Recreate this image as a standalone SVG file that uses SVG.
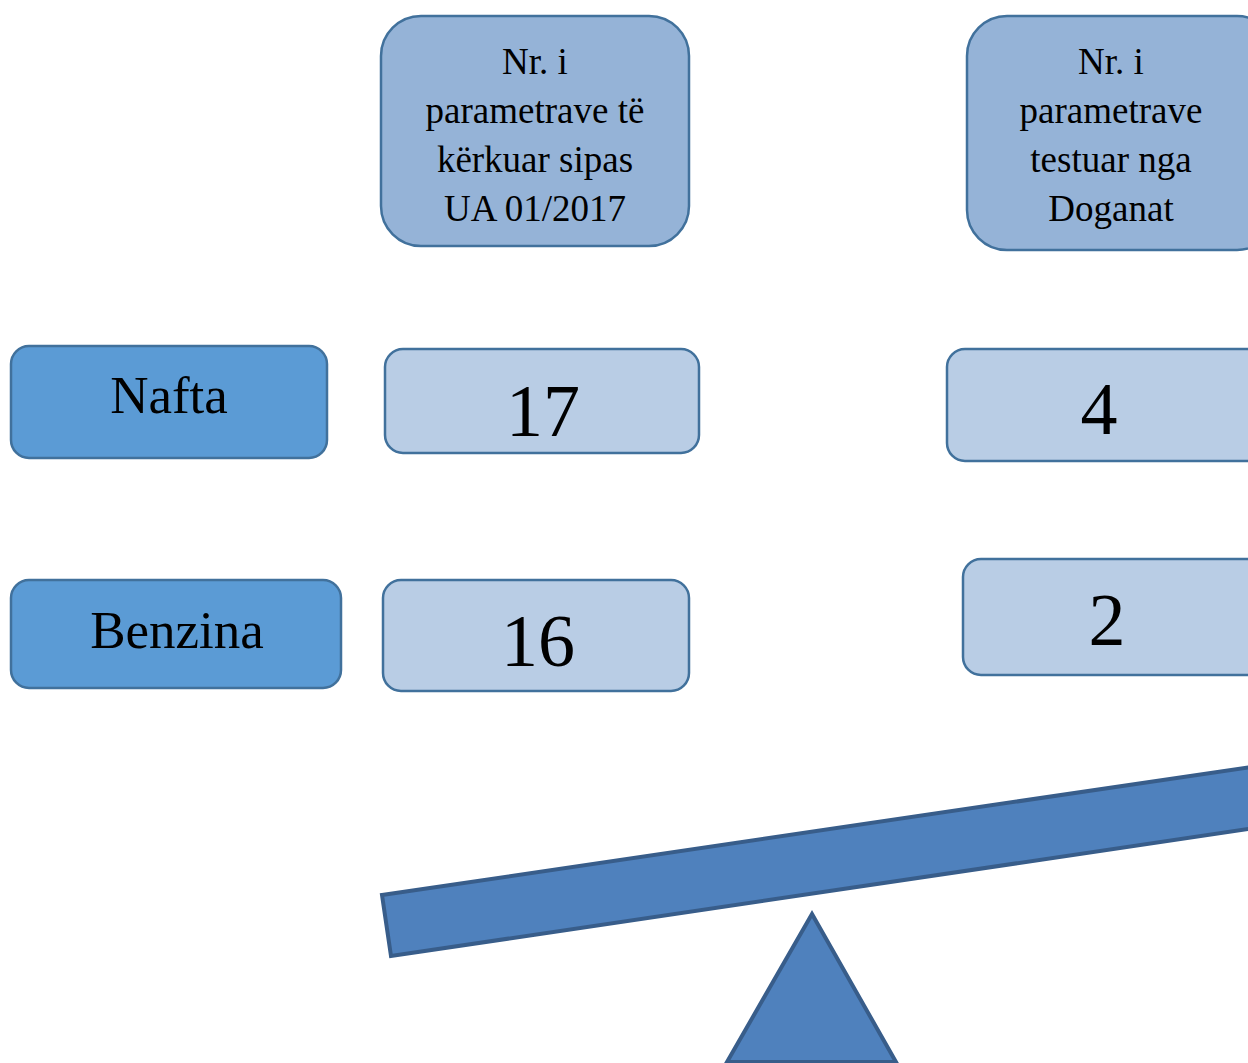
<svg xmlns="http://www.w3.org/2000/svg" width="1248" height="1063" viewBox="0 0 1248 1063">
<style>
.hdr{fill:#95b3d7;stroke:#41719c;stroke-width:2.5}
.lbl{fill:#5b9bd5;stroke:#41719c;stroke-width:2.5}
.val{fill:#b9cde5;stroke:#41719c;stroke-width:2.5}
.seesaw{fill:#4f81bd;stroke:#385d8a;stroke-width:4;stroke-linejoin:miter}
text{font-family:"Liberation Serif","Times New Roman",serif;fill:#000;text-anchor:middle}
.th{font-size:37px}
.tl{font-size:53px}
.tv{font-size:74px}
</style>
<rect width="1248" height="1063" fill="#fff"/>
<g id="header-ua">
<rect class="hdr" x="381" y="16" width="308" height="230" rx="40"/>
<text class="th" x="535" y="74">Nr. i</text>
<text class="th" x="535" y="123">parametrave të</text>
<text class="th" x="535" y="172">kërkuar sipas</text>
<text class="th" x="535" y="221">UA 01/2017</text>
</g>
<g id="header-doganat">
<rect class="hdr" x="967" y="16" width="310" height="234" rx="40"/>
<text class="th" x="1111" y="74">Nr. i</text>
<text class="th" x="1111" y="123">parametrave</text>
<text class="th" x="1111" y="172">testuar nga</text>
<text class="th" x="1111" y="221">Doganat</text>
</g>
<g id="nafta">
<rect class="lbl" x="11" y="346" width="316" height="112" rx="18"/>
<text class="tl" x="169" y="413">Nafta</text>
</g>
<g id="benzina">
<rect class="lbl" x="11" y="580" width="330" height="108" rx="18"/>
<text class="tl" x="177" y="648">Benzina</text>
</g>
<g id="nafta-ua">
<rect class="val" x="385" y="349" width="314" height="104" rx="18"/>
<text class="tv" x="543" y="436">17</text>
</g>
<g id="benzina-ua">
<rect class="val" x="383" y="580" width="306" height="111" rx="18"/>
<text class="tv" x="538" y="666">16</text>
</g>
<g id="nafta-doganat">
<rect class="val" x="947" y="349" width="320" height="112" rx="18"/>
<text class="tv" x="1099" y="434">4</text>
</g>
<g id="benzina-doganat">
<rect class="val" x="963" y="559" width="310" height="116" rx="18"/>
<text class="tv" x="1107" y="645">2</text>
</g>
<g id="connectors"></g>
<g id="seesaw">
<polygon class="seesaw" points="382,895 1258,766 1262,827 391,956"/>
<polygon class="seesaw" points="812,914 896,1062 727,1062"/>
</g>
</svg>
